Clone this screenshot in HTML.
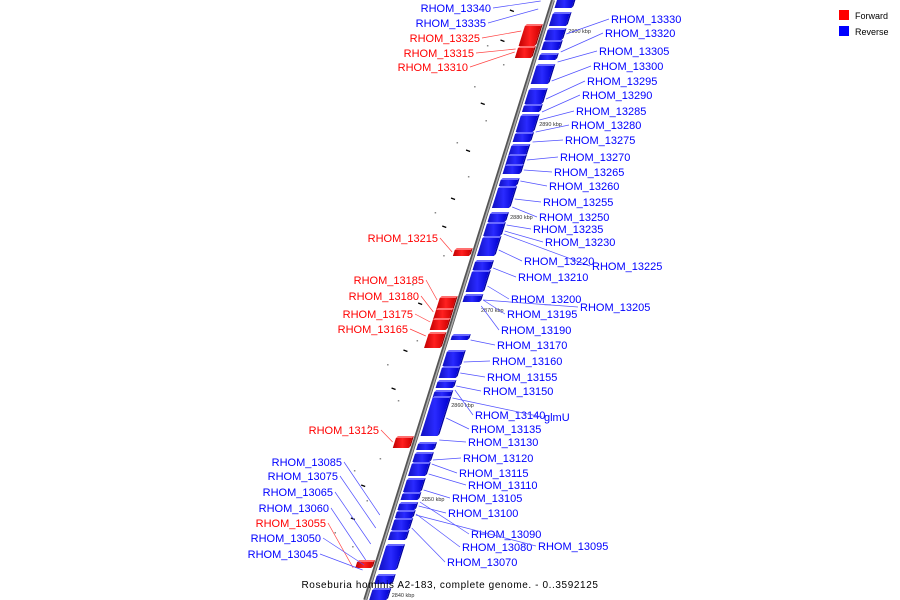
<!DOCTYPE html>
<html><head><meta charset="utf-8">
<style>
html,body{margin:0;padding:0;background:#fff;}
svg{display:block;}
text{font-family:"Liberation Sans",sans-serif;}
</style></head>
<body>
<svg id="chart" width="900" height="600" viewBox="0 0 900 600" xmlns="http://www.w3.org/2000/svg">
<defs>
<linearGradient id="gb" x1="0" x2="1" y1="0" y2="0"><stop offset="0" stop-color="#1010c0"/><stop offset="0.5" stop-color="#2a2aff"/><stop offset="1" stop-color="#0000d0"/></linearGradient>
<linearGradient id="gr" x1="0" x2="1" y1="0" y2="0"><stop offset="0" stop-color="#c00000"/><stop offset="0.5" stop-color="#ff2020"/><stop offset="1" stop-color="#d00000"/></linearGradient>
</defs>
<g id="marks"></g>
<g id="labels"></g>
<g>
<rect x="839" y="10" width="10" height="10" fill="#ff0000"/>
<text x="855" y="19" font-size="9" fill="#000">Forward</text>
<rect x="839" y="26" width="10" height="10" fill="#0000ff"/>
<text x="855" y="35" font-size="9" fill="#000">Reverse</text>
</g>
<text x="450" y="588" text-anchor="middle" font-size="10" letter-spacing="0.6" fill="#000">Roseburia hominis A2-183, complete genome. - 0..3592125</text>
</svg>
<script>
// reverse-strand genes: [startY, endY] along the axis
const reverseGenes = [[0,8],[14,26],[30,40],[42,50],[55,60],[66,84],[90,104],[106,112],[116,132],[134,142],[146,156],[156,166],[166,174],[180,186],[188,208],[214,222],[224,236],[238,256],[262,270],[272,292],[296,302],[336,340],[352,366],[368,378],[382,388],[392,398],[398,436],[444,450],[454,462],[464,476],[480,492],[494,500],[504,510],[512,518],[520,530],[532,540],[546,570],[576,584],[590,600]];
// forward-strand genes
const forwardGenes = [[26,46],[48,58],[250,256],[298,310],[310,320],[320,330],[334,348],[438,448],[562,568]];
// kbp tick labels and their positions
const tickLabels = ["2900 kbp","2890 kbp","2880 kbp","2870 kbp","2860 kbp","2850 kbp","2840 kbp"];
const tickY = [31,124,217,310,405,499,595];
// right side labels: name, label x, label y, target y
const rightNames = ["RHOM_13330","RHOM_13320","RHOM_13305","RHOM_13300","RHOM_13295","RHOM_13290","RHOM_13285","RHOM_13280","RHOM_13275","RHOM_13270","RHOM_13265","RHOM_13260","RHOM_13255","RHOM_13250","RHOM_13235","RHOM_13230","RHOM_13225","RHOM_13220","RHOM_13210","RHOM_13200","RHOM_13205","RHOM_13195","RHOM_13190","RHOM_13170","RHOM_13160","RHOM_13155","RHOM_13150","RHOM_13140","glmU","RHOM_13135","RHOM_13130","RHOM_13120","RHOM_13115","RHOM_13110","RHOM_13105","RHOM_13100","RHOM_13090","RHOM_13080","RHOM_13095","RHOM_13070"];
const rightLabelX = [611,605,599,593,587,582,576,571,565,560,554,549,543,539,533,545,592,524,518,511,580,507,501,497,492,487,483,475,544,471,468,463,459,468,452,448,471,462,538,447];
const rightLabelY = [19,33,51,66,81,95,111,125,140,157,172,186,202,217,229,242,266,261,277,299,307,314,330,345,361,377,391,415,417,429,442,458,473,485,498,513,534,547,546,562];
const rightTargetY = [34,52,62,81,99,112,120,132,142,160,170,181,199,207,225,231,234,250,268,286,300,300,306,340,362,373,386,390,398,418,440,460,464,474,490,506,502,514,515,528];
// left side labels
const leftNames = ["RHOM_13340","RHOM_13335","RHOM_13325","RHOM_13315","RHOM_13310","RHOM_13215","RHOM_13185","RHOM_13180","RHOM_13175","RHOM_13165","RHOM_13125","RHOM_13085","RHOM_13075","RHOM_13065","RHOM_13060","RHOM_13055","RHOM_13050","RHOM_13045"];
const leftLabelX = [491,486,480,474,468,438,424,419,413,408,379,342,338,333,329,326,321,318];
const leftLabelY = [8,23,38,53,67,238,280,296,314,329,430,462,476,492,508,523,538,554];
const leftTargetY = [1,9,31,49,52,252,300,312,322,336,442,515,528,544,560,568,565,570];
const leftForward = [0,0,1,1,1,1,1,1,1,1,1,0,0,0,0,1,0,0];
// small feature dashes and dots on the left
const dashY = [10,40,103,150,198,226,303,350,388,485,518];
const dotY = [45,64,86,120,142,176,212,255,284,340,364,400,425,458,470,500,532,546];

function ax(y){return 553 - 0.313*y;}
const NS="http://www.w3.org/2000/svg";
function mk(tag,attrs,parent){const e=document.createElementNS(NS,tag);for(const k in attrs)e.setAttribute(k,attrs[k]);parent.appendChild(e);return e;}
const marks=document.getElementById('marks');
const labels=document.getElementById('labels');

// axis
const axisLine=mk('line',{x1:ax(0),y1:0,x2:ax(600),y2:600,stroke:'#555','stroke-width':4},marks);


const axisHi=mk('line',{x1:ax(0)+0.5,y1:0,x2:ax(600)+0.5,y2:600,stroke:'#aaa','stroke-width':1.5},marks);



dashY.forEach((y,i)=>{
  const x=ax(y)-40;
  const d=mk('line',{x1:x,y1:y,x2:x+4,y2:y+1.5,stroke:'#000','stroke-width':1.3},marks);
  
  
});
dotY.forEach((y,i)=>{
  const x=ax(y)-(i%2?30:52);
  const d=mk('rect',{x:x,y:y,width:1.5,height:1.5,fill:'#888'},marks);
  
  
});

function block(a,b,offset,w,fill,topFill,sideFill,name){
  const g=mk('g',{},marks);
  
  
  const x0=ax(a)+offset, x1=ax(b)+offset;
  mk('polygon',{points:`${x0},${a} ${x0+w},${a} ${x1+w},${b} ${x1},${b}`,fill:fill},g);
  mk('polygon',{points:`${x0},${a} ${x0+w},${a} ${x0+w+2},${a-2} ${x0+2},${a-2}`,fill:topFill},g);
  mk('polygon',{points:`${x0+w},${a} ${x0+w+2},${a-2} ${x1+w+2},${b-2} ${x1+w},${b}`,fill:sideFill},g);
}
reverseGenes.forEach((r,i)=>{
  block(r[0],r[1],4,17,'url(#gb)','#6a6aff','#0000a0','reverse-gene');
});
forwardGenes.forEach((r,i)=>{
  block(r[0],r[1],-20,16,'url(#gr)','#ff7070','#a00000','forward-gene');
});

tickLabels.forEach((t,i)=>{
  const y=tickY[i];
  const tx=mk('text',{x:ax(y)+25,y:y+2,'font-size':5.5,fill:'#333'},marks);
  tx.textContent=t;
  
  
});

rightNames.forEach((n,i)=>{
  const ty=rightTargetY[i];
  const ln=mk('line',{x1:rightLabelX[i]-2,y1:rightLabelY[i],x2:ax(ty)+24,y2:ty,stroke:'#5050ff','stroke-width':0.7},labels);
  
  
  const t=mk('text',{x:rightLabelX[i],y:rightLabelY[i]+4,'font-size':11,fill:'#0000ff'},labels);
  t.textContent=n;
  
  
});
leftNames.forEach((n,i)=>{
  const ty=leftTargetY[i];
  const col=leftForward[i]?'#ff0000':'#0000ff';
  const lcol=leftForward[i]?'#ff4040':'#5050ff';
  const ln=mk('line',{x1:leftLabelX[i]+2,y1:leftLabelY[i],x2:ax(ty)-(leftForward[i]?22:12),y2:ty,stroke:lcol,'stroke-width':0.7},labels);
  
  
  const t=mk('text',{x:leftLabelX[i],y:leftLabelY[i]+4,'font-size':11,fill:col,'text-anchor':'end'},labels);
  t.textContent=n;
  
  
});
</script>
</body></html>
